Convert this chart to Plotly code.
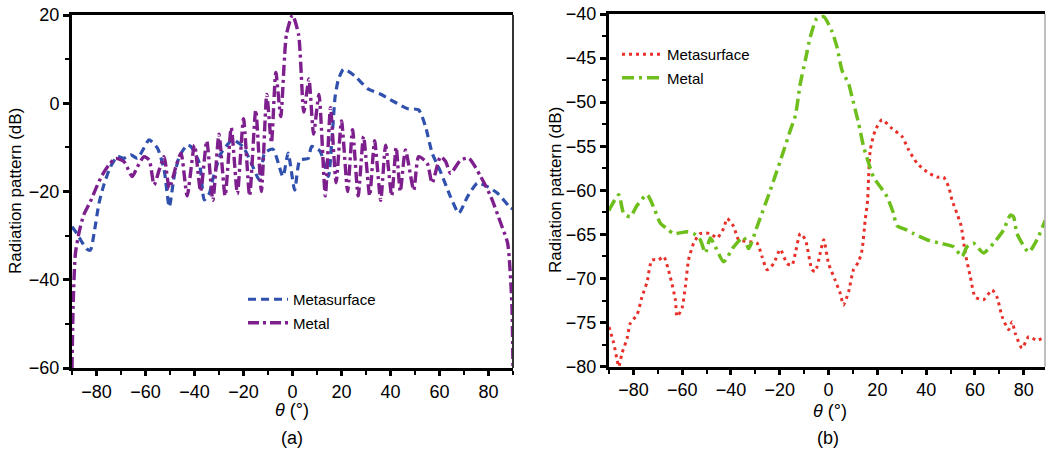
import plotly.graph_objects as go

# ---------------- Panel (a) data ----------------
theta_a_meta = [-90, -88, -86, -84, -82.5, -81, -79, -77, -74.3, -71.5, -68.8, -66, -63.3, -61,
                -58.5, -55.1, -52.4, -50.3, -48.3, -46.2, -43, -41.5, -38, -36, -33.9, -32.6,
                -29.1, -24.4, -20.3, -16.8, -13.4, -11.4, -8, -3.9, -1.8, 0.9, 3, 6.4, 7.8,
                11.2, 14.6, 16, 17.4, 18.7, 20.8, 23.5, 26.3, 31, 35.8, 41.3, 46.8, 51.5,
                54.3, 57, 60.4, 64.5, 67.9, 71.4, 75.5, 79.6, 83.7, 88.5, 90]
db_a_meta = [-28, -29.5, -31.4, -33, -33.3, -29.5, -22.7, -18.5, -14.4, -12.1, -12.5, -11.7, -12.5,
             -10.5, -8.3, -10.2, -15.1, -23.5, -16.6, -12.1, -9.5, -9.8, -13.6, -21.9, -20.4,
             -17.4, -11.3, -8.3, -9.8, -13.6, -17.5, -11.3, -10.4, -16.6, -11.3, -19.7, -12.9,
             -12.5, -9.8, -10.8, -16.6, -9, 1.5, 5.3, 7.7, 7, 5.7, 3.2, 2.1, 0.4, -1.2, -1.5,
             -5.3, -11.3, -15.5, -21.2, -24.9, -21.2, -18.1, -18.9, -20.4, -23.4, -24]

theta_a_metal = [-90, -89.5, -88.6, -87, -85.2, -82.5, -80, -77.7, -75, -72.2, -68.8, -65.4, -63.3,
                 -60.6, -58.5, -56.5, -54.4, -52.4, -50.3, -47.6, -45.5, -43, -40, -37.5, -35,
                 -32.5, -30, -27.5, -25, -22.5, -20, -17.5, -15, -12.7, -10.5, -8.6, -6.8, -4.8,
                 -2.5, 0, 2.5, 4.6, 6.7, 8.6, 10.8, 13.4, 15.5, 17.8, 20, 22.5, 24.5, 26.8, 29,
                 31.5, 33.5, 36, 38, 40.5, 42.3, 44, 46.1, 49.5, 51.5, 55, 57, 60.4, 62.5, 64.5,
                 68.6, 72, 76.8, 81, 85, 87.8, 89.5, 90]
db_a_metal = [-60, -45, -34, -29, -25.3, -22.3, -19, -16.3, -14, -12.5, -13.2, -16.6, -14.4,
              -12.1, -12.9, -18.5, -15.1, -12.1, -19.3, -14.4, -11.3, -21, -9.5, -20, -8.5,
              -22, -7, -21, -5.5, -20.5, -3.5, -21, -1.5, -20, 2, -9, 7, -3,
              15.5, 20, 15.5, -2, 5.5, -7, 2, -21, -1, -18, -4, -20, -6, -21, -7.5,
              -21, -8.5, -22, -9.5, -21, -10, -20, -10.6, -19.7, -12.1, -13.6, -18.1, -12.1,
              -13.2, -15.9, -12.9, -12.5, -16.6, -21.2, -27.2, -31.7, -45, -60]

# ---------------- Panel (b) data ----------------
theta_b_meta = [-90, -88.1, -86.7, -86, -84.7, -82.6, -81.3, -78.5, -76.5, -74.4, -72.4, -69.7,
                -67.6, -64.9, -62.8, -62.1, -60.1, -58.7, -57.4, -55.3, -52.6, -48.5, -45.7, -43,
                -41.6, -38.9, -36.9, -33.4, -29.3, -27.3, -25.2, -22.5, -19.8, -17, -15, -13.6,
                -11.6, -9.5, -6.8, -5.5, -3.4, -2, 0, 2.7, 4.8, 6.1, 8.2, 10.2, 12.3, 13.7, 15,
                16, 16.4, 17.1, 19.1, 21.9, 26, 30.1, 32.8, 36.2, 40.3, 44.4, 47.1, 49.2, 50.6,
                52.6, 54.3, 56, 58.1, 60.1, 63.5, 67, 69, 71.1, 73.8, 75.2, 76.5, 79.3, 82,
                85.4, 88.8]
db_b_meta = [-75.5, -77.3, -79.2, -80, -78.5, -76.8, -75.1, -74.1, -72.1, -70.4, -67.9, -67.9,
             -67.5, -69.8, -72.4, -74.3, -73.4, -70.9, -67.9, -66, -64.9, -64.9, -65.4, -64.3,
             -63.2, -64.1, -65.6, -65.8, -66, -67.5, -69, -68.3, -66.7, -68.3, -68.5, -67.1,
             -64.9, -65.6, -69, -69.2, -67.1, -65.6, -68.3, -70.2, -71.7, -73, -71.5, -69,
             -68.1, -66.8, -63.4, -61.1, -58.5, -55.4, -53.2, -52, -53, -53.9, -55.4, -56.9,
             -57.9, -58.5, -58.5, -59.6, -61.1, -62.6, -64, -67.1, -69.8, -72.1, -72.4, -71.3,
             -72.1, -74.3, -75.8, -74.9, -76.2, -77.9, -76.6, -77, -76.6]

theta_b_metal = [-90, -89.5, -86, -84, -81.3, -78.5, -74.4, -71.7, -69, -66, -63.5, -58, -55.3,
                 -52.6, -50.5, -48.5, -46.4, -43, -38.9, -34.8, -32.8, -29.3, -23.9, -18.4,
                 -15.7, -13.6, -11.6, -9.5, -7.5, -4.8, -2, 1.4, 3.4, 5.5, 8.2, 9.6, 12.3,
                 14.3, 16.4, 18.4, 21.2, 23.9, 26.6, 28, 32.1, 34.8, 40.3, 45.8, 51.2, 54.7,
                 56.7, 59.4, 63.5, 67.6, 71.7, 74.5, 75.8, 77.2, 82, 85.4, 88.8]
db_b_metal = [-62.3, -62, -60.5, -62.6, -63, -61.7, -60.5, -61.9, -63.7, -64.4, -64.9, -64.7,
              -64.9, -65.6, -67.1, -65.4, -66.4, -68.1, -66.4, -65.3, -66.6, -64.1, -60, -55.5,
              -53.2, -51.5, -47.9, -45.2, -42.6, -40.5, -40.3, -42, -43.7, -46.4, -47.9, -49.4,
              -52.4, -55, -56.9, -58.5, -59.6, -60.7, -62.6, -64, -64.5, -64.9, -65.6, -66,
              -66.4, -67.5, -66.4, -66, -67.1, -66, -64.5, -62.8, -63, -64.9, -67, -65.6, -63.4]

FONT = "Arial, Liberation Sans, sans-serif"
W, H = 1046, 451

def fx(px):
    return px / W

def fy(py):
    return (H - py) / H

fig = go.Figure()

fig.add_trace(go.Scatter(x=theta_a_meta, y=db_a_meta, mode="lines", name="Metasurface",
                         line=dict(color="#3050AE", width=3.2, dash="8px,5px", shape="spline", smoothing=0.6),
                         xaxis="x", yaxis="y", legend="legend", legendgroup="a1"))
fig.add_trace(go.Scatter(x=theta_a_metal, y=db_a_metal, mode="lines", name="Metal",
                         line=dict(color="#7E1F8E", width=3.4, dash="11px,4px,3px,4px", shape="spline", smoothing=0.6),
                         xaxis="x", yaxis="y", legend="legend", legendgroup="a2"))
fig.add_trace(go.Scatter(x=theta_b_meta, y=db_b_meta, mode="lines", name="Metasurface",
                         line=dict(color="#E8302A", width=3, dash="3px,4px", shape="spline", smoothing=0.6),
                         xaxis="x2", yaxis="y2", legend="legend2", legendgroup="b1"))
fig.add_trace(go.Scatter(x=theta_b_metal, y=db_b_metal, mode="lines", name="Metal",
                         line=dict(color="#6EBE1C", width=3.5, dash="12px,5px,3px,5px", shape="spline", smoothing=0.6),
                         xaxis="x2", yaxis="y2", legend="legend2", legendgroup="b2"))

axis_common = dict(showgrid=False, zeroline=False, showline=True, linecolor="black", linewidth=3,
                   ticks="outside", ticklen=6, tickwidth=2.5, tickcolor="black",
                   tickfont=dict(family=FONT, size=18, color="black"),
                   minor=dict(ticks="outside", ticklen=4, tickwidth=2, tickcolor="black"),
                   automargin=False, fixedrange=True)

fig.update_layout(
    width=W, height=H,
    margin=dict(l=0, r=0, t=0, b=0),
    paper_bgcolor="white", plot_bgcolor="white",
    showlegend=True,
    xaxis=dict(axis_common, domain=[fx(72), fx(513)], range=[-90, 90], tick0=0, dtick=20,
               minor=dict(axis_common["minor"], dtick=10), mirror=True, anchor="y", ticklen=5),
    yaxis=dict(axis_common, domain=[fy(368), fy(15)], range=[-60, 20], tick0=0, dtick=20,
               minor=dict(axis_common["minor"], dtick=10), anchor="x"),
    xaxis2=dict(axis_common, domain=[fx(609), fx(1045)], range=[-90, 88.7], tick0=0, dtick=20,
                minor=dict(axis_common["minor"], dtick=10), mirror=True, anchor="y2", ticklen=5),
    yaxis2=dict(axis_common, domain=[fy(366.7), fy(14)], range=[-80, -40], tick0=-40, dtick=5,
                minor=dict(axis_common["minor"], dtick=2.5), anchor="x2"),
    legend=dict(x=fx(243), y=fy(283), xanchor="left", yanchor="top", bgcolor="rgba(0,0,0,0)",
                font=dict(family=FONT, size=15, color="black"), tracegroupgap=1, itemwidth=40),
    legend2=dict(x=fx(617), y=fy(38), xanchor="left", yanchor="top", bgcolor="rgba(0,0,0,0)",
                 font=dict(family=FONT, size=15, color="black"), tracegroupgap=1, itemwidth=40),
)

# right borders of panels
fig.add_shape(type="line", xref="paper", yref="paper", x0=fx(513), x1=fx(513), y0=fy(368), y1=fy(15),
              line=dict(color="#333333", width=2))
fig.add_shape(type="line", xref="paper", yref="paper", x0=fx(1045), x1=fx(1045), y0=fy(366.7), y1=fy(14),
              line=dict(color="#AAAAAA", width=1.5))

def add_text(text, px, py, size, angle=0):
    fig.add_annotation(text=text, textangle=angle, x=fx(px), y=fy(py), xref="paper", yref="paper",
                       xanchor="center", yanchor="middle", showarrow=False,
                       font=dict(family=FONT, size=size, color="black"))

add_text("Radiation pattern (dB)", 16, 191, 17, -90)
add_text("Radiation pattern (dB)", 555, 190, 17, -90)
add_text("<i>θ</i> (°)", 292, 410, 18)
add_text("<i>θ</i> (°)", 830, 411, 18)
add_text("(a)", 292, 438, 18)
add_text("(b)", 828, 438, 18)

fig.write_html("out.html")
